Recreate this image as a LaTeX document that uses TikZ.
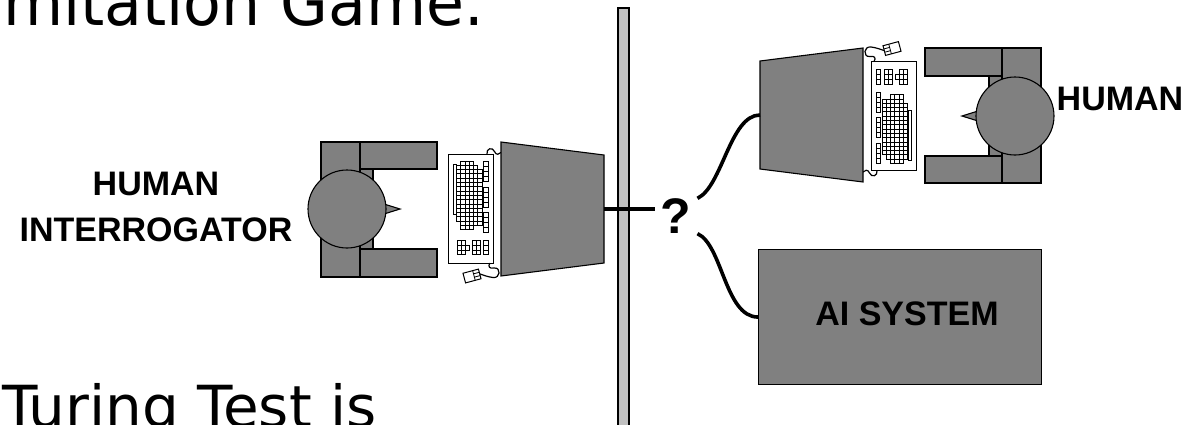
\documentclass[tikz,border=0pt]{standalone}
\usepackage{fontspec}
\setmainfont{Liberation Sans}
\newfontfamily\slidefont[FakeStretch=0.95]{DejaVu Sans}
\newfontfamily\bodyfont{DejaVu Sans}
\definecolor{furngray}{HTML}{808080}
\definecolor{wallgray}{HTML}{C0C0C0}
\tikzset{
  furn/.style={draw=black, line width=1.1pt, fill=furngray},
  wallbar/.style={draw=black, line width=1.8pt, fill=wallgray},
  keyrect/.style={draw=black, line width=0.85pt, fill=white},
  cord/.style={draw=black, line width=1.2pt},
  link/.style={draw=black, line width=3.6pt},
  lbl/.style={font=\bfseries\fontsize{34}{46}\selectfont, inner sep=0pt, align=center},
  % seated person seen from above, facing +x
  person/.pic={
    \path[furn] (-26,-40) rectangle (26,40);
    \path[furn] (-26,-67) rectangle (13,68);
    \path[furn] (13,-67) rectangle (90,-40);
    \path[furn] (13,40) rectangle (90,68);
    \path[furn] (37,-5) -- (53,0) -- (37,5) -- cycle;
    \path[furn] (0,0) circle[radius=39];
  },
  % monitor seen from above, screen side at the origin
  monitor/.pic={
    \path[furn] (0,-67) -- (103,-54) -- (103,54) -- (0,67) -- cycle;
    \coordinate (-port) at (103,0);
  },
  % keyboard with its cords and mouse, centred at the origin
  keyboard/.pic={
    \path[keyrect, line width=1pt] (-22.5,-54.5) rectangle (22.5,54.5);
    % space bar
    \path[keyrect] (-17.5,-44) rectangle (-14.5,6);
    % main key block
    \foreach \c/\a/\b in {0/1/13, 1/0/15, 2/0/15, 3/0/15, 4/1/14, 5/2/14}{
      \foreach \r in {\a,...,\b}{
        \path[keyrect] (-14+\c*4.25,-47.5+\r*4.3) rectangle ++(4.25,4.3);
      }
    }
    % function key column
    \foreach \g in {-47, -21, 4}{
      \foreach \r in {0,...,3}{
        \path[keyrect] (13,\g+\r*5) rectangle ++(4.5,5);
      }
    }
    % cursor and editing keys
    \foreach \x in {-13.5,-9.5,1.5,5.5}{
      \foreach \r in {0,1,2}{
        \path[keyrect] (\x,32+\r*4.8) rectangle ++(4,4.8);
      }
    }
    \path[keyrect] (-5.5,36.8) rectangle ++(4,4.8);
    \foreach \r in {0,1,2}{
      \path[keyrect] (13,32+\r*4.8) rectangle ++(4.5,4.8);
    }
    % cord to the monitor
    \path[cord] (16.5,-54.5) .. controls (15.5,-60) and (22,-62) .. (24,-57)
      .. controls (25.5,-53) and (29,-54) .. (30.5,-56);
    % mouse
    \begin{scope}[shift={(1.5,67.5)}, rotate=15]
      \path[keyrect, line width=1pt] (-8,-5) rectangle (8,5);
      \path[cord, line width=0.8pt] (2,-5) -- (2,5) (2,-1.7) -- (8,-1.7) (2,1.7) -- (8,1.7);
    \end{scope}
    % mouse cord
    \path[cord] (19.5,54.5) .. controls (17,58) and (19,60.5) .. (24,59.5)
      .. controls (30.5,59) and (30,70) .. (22.5,69)
      .. controls (18,68.5) and (14,67) .. (9.2,65.4);
  },
}
\begin{document}
\begin{tikzpicture}[x=1pt, y=-1pt]
  \useasboundingbox (0,0) rectangle (1192,424);
  \clip (0,0) rectangle (1192,424);

  % slide text
  \node[anchor=base east, inner sep=0pt, font=\slidefont\fontsize{65}{78}\selectfont] (title) at (484,25) {Imitation Game.};
  \node[anchor=base west, inner sep=0pt, font=\bodyfont\fontsize{58}{70}\selectfont] (body) at (2,427) {Turing Test is};

  % dividing wall
  \path[wallbar] (618,8) rectangle (629,440);

  % interrogator side
  \pic (hp) at (347,209) {person};
  \pic (lk) at (470.5,208.5) {keyboard};
  \pic (lm) at (501,209) {monitor};
  \node[lbl] (hlabel) at (156,206.5) {HUMAN\\INTERROGATOR};

  % hidden side
  \pic (rp) at (1015,116) [rotate=180] {person};
  \pic (rk) at (893.5,116) [rotate=180] {keyboard};
  \pic (rm) at (863,115) [rotate=180] {monitor};
  \node[lbl, anchor=center] (hrlabel) at (1120,98.5) {HUMAN};

  \node[furn, minimum width=283pt, minimum height=135pt, anchor=north west] (ai) at (758,249) {};
  \node[lbl] (ailabel) at (907,313.5) {AI SYSTEM};

  % the question mark and its links
  \node[font=\bfseries\fontsize{50}{50}\selectfont, inner xsep=6pt, inner ysep=0pt] (q) at (676,216) {?};
  \path[link] (lm-port) -- (lm-port -| q.west);
  \path[link] (q.north east) .. controls +(25,-12) and ([xshift=-30pt]rm-port) .. (rm-port);
  \path[link] (q.south east) .. controls +(25,11) and ([xshift=-33pt]ai.west) .. (ai.west);
\end{tikzpicture}
\end{document}
